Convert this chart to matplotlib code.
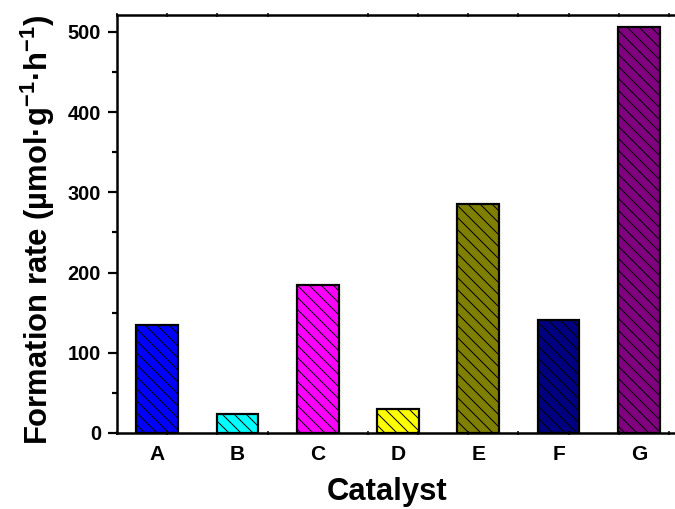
import matplotlib
matplotlib.use("Agg")
import matplotlib.pyplot as plt
import numpy as np
from matplotlib.ticker import FixedLocator, MultipleLocator

catalysts = ["A", "B", "C", "D", "E", "F", "G"]
rates = [135, 24, 185, 30, 286, 141, 506]
colors = ["#0000FF", "#00FFFF", "#FF00FF", "#FFFF00", "#808000", "#000080", "#800080"]

plt.rcParams["font.family"] = ["Liberation Sans", "DejaVu Sans"]
plt.rcParams["font.weight"] = "bold"
plt.rcParams["mathtext.fontset"] = "custom"
plt.rcParams["mathtext.bf"] = "Liberation Sans:bold"
plt.rcParams["mathtext.rm"] = "Liberation Sans:bold"
plt.rcParams["mathtext.default"] = "bf"
plt.rcParams["hatch.linewidth"] = 1.0

W, H = 675, 509
fig = plt.figure(figsize=(W / 72, H / 72), dpi=72)
ax = fig.add_axes([117 / W, (H - 433) / H, 562 / W, 418 / H])

x = np.arange(1, len(catalysts) + 1)
ax.bar(x, rates, 0.52, color=colors, edgecolor="black", linewidth=2.2, hatch="\\\\")

ax.set_xlim(0.5, 7.5)
ax.set_ylim(0, 521)
ax.set_xticks(x)
ax.set_xticklabels(catalysts, fontsize=21, fontweight="bold")
ax.xaxis.set_minor_locator(FixedLocator(0.5 + 0.625 * np.arange(12)))
ax.tick_params(axis="x", which="major", length=0, pad=12)
ax.tick_params(axis="x", which="minor", direction="inout", length=4, width=1.5,
               top=True, bottom=True)

ax.yaxis.set_major_locator(MultipleLocator(100))
ax.yaxis.set_minor_locator(MultipleLocator(50))
ax.tick_params(axis="y", which="major", length=9, width=2.2, labelsize=20, pad=7)
ax.tick_params(axis="y", which="minor", length=5, width=2.2)
for lb in ax.get_yticklabels():
    lb.set_fontweight("bold")

for side in ["left", "bottom", "top"]:
    ax.spines[side].set_linewidth(2.5)
ax.spines["right"].set_visible(False)

ax.set_xlabel("Catalyst", fontsize=31, fontweight="bold")
ax.xaxis.set_label_coords(0.48, -0.105, transform=ax.transAxes)
ax.xaxis.label.set_va("top")
ax.set_ylabel("Formation rate (µmol·g$^{-1}$·h$^{-1}$)", fontsize=31,
              fontweight="bold")
ax.yaxis.set_label_coords(-0.140, 0.486, transform=ax.transAxes)
ax.yaxis.label.set_va("center")

fig.savefig("out.png", dpi=72)
